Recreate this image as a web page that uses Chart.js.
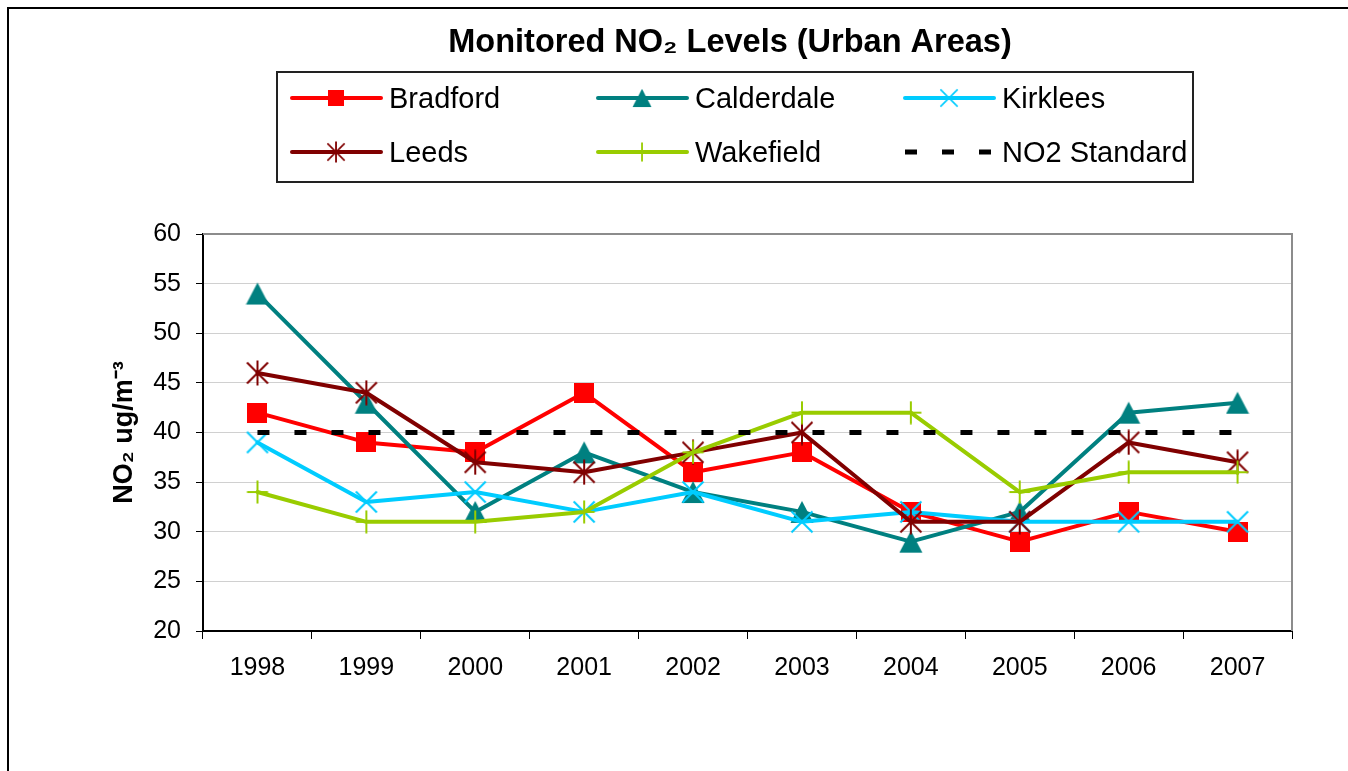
<!DOCTYPE html>
<html><head><meta charset="utf-8">
<script src="https://cdn.jsdelivr.net/npm/chart.js@4/dist/chart.umd.min.js"></script>
<style>html,body{margin:0;padding:0;background:#fff;overflow:hidden}#wrap{position:relative;width:1348px;height:771px}</style>
</head><body><div id="wrap"><canvas id="c" width="1348" height="771"></canvas></div>
<script>
// ---- data ----
const years = ['1998','1999','2000','2001','2002','2003','2004','2005','2006','2007'];
const bradford   = [42,39,38,44,36,38,32,29,32,30];
const calderdale = [54,43,32,38,34,32,29,32,42,43];
const kirklees   = [39,33,34,32,34,31,32,31,31,31];
const leeds      = [46,44,37,36,38,40,31,31,39,37];
const wakefield  = [34,31,31,32,38,42,42,34,36,36];
const no2Standard= [40,40,40,40,40,40,40,40,40,40];
const yMin = 20, yMax = 60, yStep = 5;
const chartTitle = 'Monitored NO\u2082 Levels (Urban Areas)';
const yTitle = 'NO\u2082 ug/m\u207B\u00B3';

const FONT = "'Liberation Sans', Arial, sans-serif";

function mk(w,h,draw){const c=document.createElement('canvas');c.width=w;c.height=h;draw(c.getContext('2d'));return c;}
const mSquare = mk(20,20,g=>{g.fillStyle='#FF0000';g.fillRect(0,0,20,20);});
const mTri = mk(24,24,g=>{g.fillStyle='#008080';g.beginPath();g.moveTo(12,1);g.lineTo(23.5,23);g.lineTo(0.5,23);g.closePath();g.fill();});
const mX = mk(24,24,g=>{g.strokeStyle='#00CCFF';g.lineWidth=2;g.beginPath();g.moveTo(1.5,1.5);g.lineTo(22.5,22.5);g.moveTo(22.5,1.5);g.lineTo(1.5,22.5);g.stroke();});
const mAst = mk(26,26,g=>{g.strokeStyle='#800000';g.lineWidth=2;g.beginPath();g.moveTo(2.5,2.5);g.lineTo(23.5,23.5);g.moveTo(23.5,2.5);g.lineTo(2.5,23.5);g.moveTo(13,0.5);g.lineTo(13,25.5);g.stroke();});
const mPlus = mk(24,24,g=>{g.strokeStyle='#99CC00';g.lineWidth=2;g.beginPath();g.moveTo(1.5,12);g.lineTo(22.5,12);g.moveTo(12,0.5);g.lineTo(12,23.5);g.stroke();});

function series(label,data,color,marker,order){
  return {label,data,borderColor:color,backgroundColor:color,borderWidth:4,tension:0,fill:false,
    borderJoinStyle:'round',borderCapStyle:'round',pointStyle:marker,pointRadius:10,pointHoverRadius:10,order};
}

const PADL = 95;
const deco = {
  id:'deco',
  beforeDatasetsDraw(chart){
    const {ctx, chartArea:a} = chart;
    ctx.save();
    ctx.strokeStyle='#8c8c8c';ctx.lineWidth=2;
    ctx.beginPath();ctx.moveTo(a.left,a.top);ctx.lineTo(a.right,a.top);ctx.lineTo(a.right,a.bottom);ctx.stroke();
    ctx.restore();
  },
  afterDraw(chart){
    const {ctx, chartArea:a} = chart;
    ctx.save();
    // outer border
    ctx.strokeStyle='#000';ctx.lineWidth=2;
    ctx.beginPath();ctx.moveTo(8,771);ctx.lineTo(8,8);ctx.lineTo(1348,8);ctx.stroke();
    // title
    ctx.fillStyle='#000';ctx.font='bold 32.5px '+FONT;ctx.textAlign='center';ctx.textBaseline='alphabetic';
    ctx.fillText(chartTitle,730,52);
    // y title
    ctx.save();ctx.translate(132,(a.top+a.bottom)/2);ctx.rotate(-Math.PI/2);
    ctx.font='bold 27px '+FONT;ctx.textAlign='center';ctx.fillText(yTitle,0,0);ctx.restore();
    // legend box
    ctx.strokeStyle='#222';ctx.lineWidth=2;ctx.strokeRect(277,72,916,110);
    const cols=[292,598,905], rows=[98,152];
    chart.data.datasets.forEach((ds,i)=>{
      const x0=cols[i%3], y=rows[Math.floor(i/3)];
      ctx.save();
      ctx.strokeStyle=ds.borderColor;ctx.lineWidth=ds.borderWidth;
      if(ds.borderDash){ctx.setLineDash(ds.borderDash);ctx.lineCap='butt';}else{ctx.lineCap='round';}
      ctx.beginPath();ctx.moveTo(x0,y);ctx.lineTo(x0+(ds.borderDash?87:89),y);ctx.stroke();
      ctx.setLineDash([]);
      if(ds.pointStyle && typeof ds.pointStyle==='object'){
        const m=ds.pointStyle, s=0.83;
        ctx.drawImage(m,x0+44-m.width*s/2,y-m.height*s/2,m.width*s,m.height*s);
      }
      ctx.fillStyle='#000';ctx.font='29px '+FONT;ctx.textAlign='left';ctx.textBaseline='alphabetic';
      ctx.fillText(ds.label,x0+97,y+10);
      ctx.restore();
    });
    ctx.restore();
  }
};

new Chart(document.getElementById('c'),{
  type:'line',
  data:{labels:years,datasets:[
    series('Bradford',bradford,'#FF0000',mSquare,5),
    series('Calderdale',calderdale,'#008080',mTri,4),
    series('Kirklees',kirklees,'#00CCFF',mX,3),
    series('Leeds',leeds,'#800000',mAst,2),
    series('Wakefield',wakefield,'#99CC00',mPlus,1),
    {label:'NO2 Standard',data:no2Standard,borderColor:'#000',backgroundColor:'#000',borderWidth:5,
     borderDash:[12,25],borderCapStyle:'butt',pointRadius:0,pointHoverRadius:0,fill:false,tension:0,order:0}
  ]},
  options:{
    responsive:false,animation:false,devicePixelRatio:1,
    layout:{padding:{left:PADL,top:234,right:56,bottom:40}},
    plugins:{legend:{display:false},title:{display:false},tooltip:{enabled:false}},
    scales:{
      x:{type:'category',offset:true,
        grid:{offset:true,drawOnChartArea:false,drawTicks:true,tickLength:8,color:'#000',tickColor:'#000',lineWidth:1},
        border:{color:'#000',width:2},
        ticks:{font:{family:FONT,size:25},color:'#000',padding:14,maxRotation:0,autoSkip:false},
        afterFit(s){s.height=100;}
      },
      y:{min:yMin,max:yMax,
        grid:{color:'#d0d0d0',tickColor:'#000',tickLength:7,lineWidth:1},
        border:{color:'#000',width:2},
        ticks:{stepSize:yStep,font:{family:FONT,size:25},color:'#000',padding:15},
        afterFit(s){s.width=203-PADL;}
      }
    }
  },
  plugins:[deco]
});
</script></body></html>
